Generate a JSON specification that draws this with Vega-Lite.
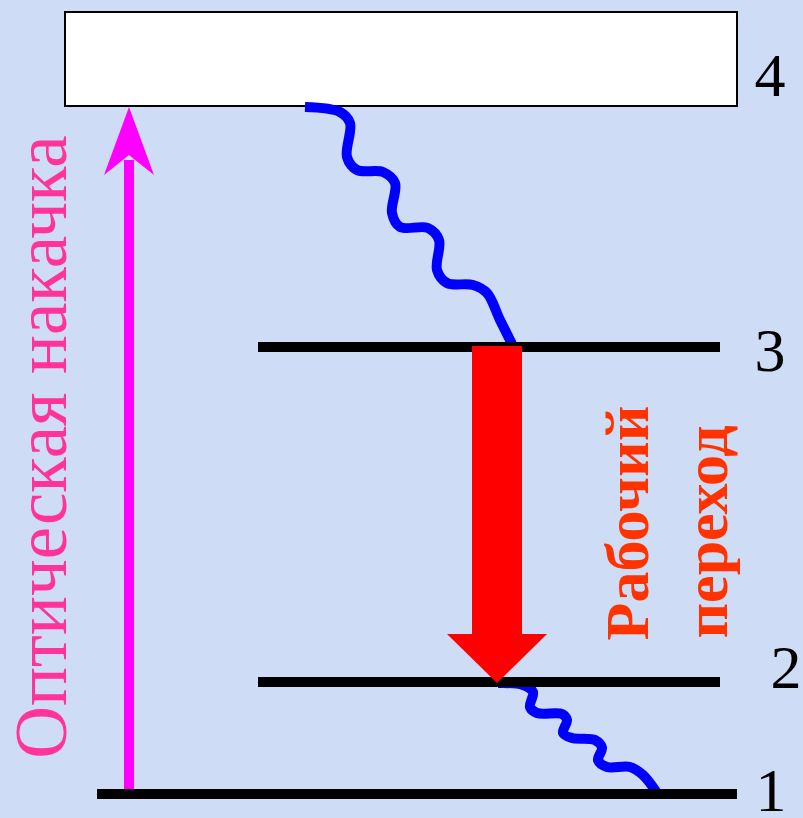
{
  "$schema": "https://vega.github.io/schema/vega-lite/v6.json",
  "width": 803,
  "height": 818,
  "autosize": {"type": "none"},
  "padding": 0,
  "background": "#cfdcf5",
  "config": {"view": {"stroke": null}},
  "datasets": {
    "box": [{"x": 65, "x2": 737, "y": 12, "y2": 106}],
    "levels": [
      {"level": "3", "x": 258, "x2": 720, "y": 347},
      {"level": "2", "x": 258, "x2": 720, "y": 682},
      {"level": "1", "x": 97, "x2": 737, "y": 794}
    ],
    "labels": [
      {"t": "4", "x": 770, "y": 96},
      {"t": "3", "x": 770, "y": 371},
      {"t": "2", "x": 786, "y": 688},
      {"t": "1", "x": 771, "y": 811}
    ],
    "pumpShaft": [{"x": 129, "y": 160, "y2": 794}],
    "pumpHead": [{"x": 129, "y": 141}],
    "laserShaft": [{"x": 472, "x2": 522, "y": 346, "y2": 636}],
    "laserHead": [{"x": 497, "y": 658.5}],
    "waves": [
      {"w": "a", "i": 1, "x": 305, "y": 107},
      {"w": "a", "i": 2, "x": 340, "y": 112},
      {"w": "a", "i": 3, "x": 350, "y": 123},
      {"w": "a", "i": 4, "x": 347, "y": 157},
      {"w": "a", "i": 5, "x": 357, "y": 170},
      {"w": "a", "i": 6, "x": 383, "y": 172},
      {"w": "a", "i": 7, "x": 395, "y": 183},
      {"w": "a", "i": 8, "x": 392, "y": 213},
      {"w": "a", "i": 9, "x": 400, "y": 227},
      {"w": "a", "i": 10, "x": 428, "y": 228},
      {"w": "a", "i": 11, "x": 439, "y": 240},
      {"w": "a", "i": 12, "x": 437, "y": 270},
      {"w": "a", "i": 13, "x": 447, "y": 283},
      {"w": "a", "i": 14, "x": 473, "y": 285},
      {"w": "a", "i": 15, "x": 487, "y": 293},
      {"w": "a", "i": 16, "x": 500, "y": 320},
      {"w": "a", "i": 17, "x": 512, "y": 344},
      {"w": "b", "i": 1, "x": 498, "y": 683},
      {"w": "b", "i": 2, "x": 523, "y": 685},
      {"w": "b", "i": 3, "x": 533, "y": 692},
      {"w": "b", "i": 4, "x": 530, "y": 707},
      {"w": "b", "i": 5, "x": 537, "y": 713},
      {"w": "b", "i": 6, "x": 562, "y": 714},
      {"w": "b", "i": 7, "x": 567, "y": 720},
      {"w": "b", "i": 8, "x": 563, "y": 733},
      {"w": "b", "i": 9, "x": 572, "y": 738},
      {"w": "b", "i": 10, "x": 595, "y": 740},
      {"w": "b", "i": 11, "x": 602, "y": 748},
      {"w": "b", "i": 12, "x": 598, "y": 760},
      {"w": "b", "i": 13, "x": 607, "y": 767},
      {"w": "b", "i": 14, "x": 630, "y": 767},
      {"w": "b", "i": 15, "x": 643, "y": 775},
      {"w": "b", "i": 16, "x": 657, "y": 793}
    ],
    "pumpText": [{"t": "Оптическая накачка", "x": 66, "y": 447}],
    "laserText": [
      {"t": "Рабочий", "x": 648, "y": 523},
      {"t": "переход", "x": 727, "y": 532}
    ]
  },
  "encoding": {
    "x": {"field": "x", "type": "quantitative", "scale": {"domain": [0, 803], "nice": false, "zero": false}, "axis": null},
    "y": {"field": "y", "type": "quantitative", "scale": {"domain": [0, 818], "nice": false, "zero": false, "reverse": true}, "axis": null}
  },
  "layer": [
    {
      "data": {"name": "box"},
      "mark": {"type": "rect", "fill": "#ffffff", "stroke": "#000000", "strokeWidth": 2},
      "encoding": {"x2": {"field": "x2"}, "y2": {"field": "y2"}}
    },
    {
      "data": {"name": "pumpShaft"},
      "mark": {"type": "rule", "color": "#ff00ff", "strokeWidth": 10},
      "encoding": {"y2": {"field": "y2"}}
    },
    {
      "data": {"name": "pumpHead"},
      "mark": {"type": "point", "filled": true, "color": "#ff00ff", "opacity": 1, "size": 4624, "shape": "M0,-1L0.735,1L0,0.41L-0.735,1Z"},
      "encoding": {}
    },
    {
      "data": {"name": "waves"},
      "mark": {"type": "line", "color": "#0000ff", "strokeWidth": 10, "interpolate": "catmull-rom", "strokeCap": "butt"},
      "encoding": {"detail": {"field": "w"}, "order": {"field": "i", "type": "quantitative"}}
    },
    {
      "data": {"name": "levels"},
      "mark": {"type": "rule", "color": "#000000", "strokeWidth": 10},
      "encoding": {"x2": {"field": "x2"}}
    },
    {
      "data": {"name": "laserShaft"},
      "mark": {"type": "rect", "fill": "#ff0000"},
      "encoding": {"x2": {"field": "x2"}, "y2": {"field": "y2"}}
    },
    {
      "data": {"name": "laserHead"},
      "mark": {"type": "point", "filled": true, "color": "#ff0000", "opacity": 1, "size": 10000, "shape": "M-1,-0.49L1,-0.49L0,0.49Z"},
      "encoding": {}
    },
    {
      "data": {"name": "labels"},
      "mark": {"type": "text", "font": "Liberation Serif", "fontSize": 62, "color": "#000000", "align": "center", "baseline": "alphabetic"},
      "encoding": {"text": {"field": "t"}}
    },
    {
      "data": {"name": "pumpText"},
      "mark": {"type": "text", "font": "Liberation Serif", "fontSize": 73, "color": "#ff3399", "align": "center", "baseline": "alphabetic", "angle": 270},
      "encoding": {"text": {"field": "t"}}
    },
    {
      "data": {"name": "laserText"},
      "mark": {"type": "text", "font": "Liberation Serif", "fontSize": 62, "fontWeight": "bold", "color": "#ff3300", "align": "center", "baseline": "alphabetic", "angle": 270},
      "encoding": {"text": {"field": "t"}}
    }
  ]
}
